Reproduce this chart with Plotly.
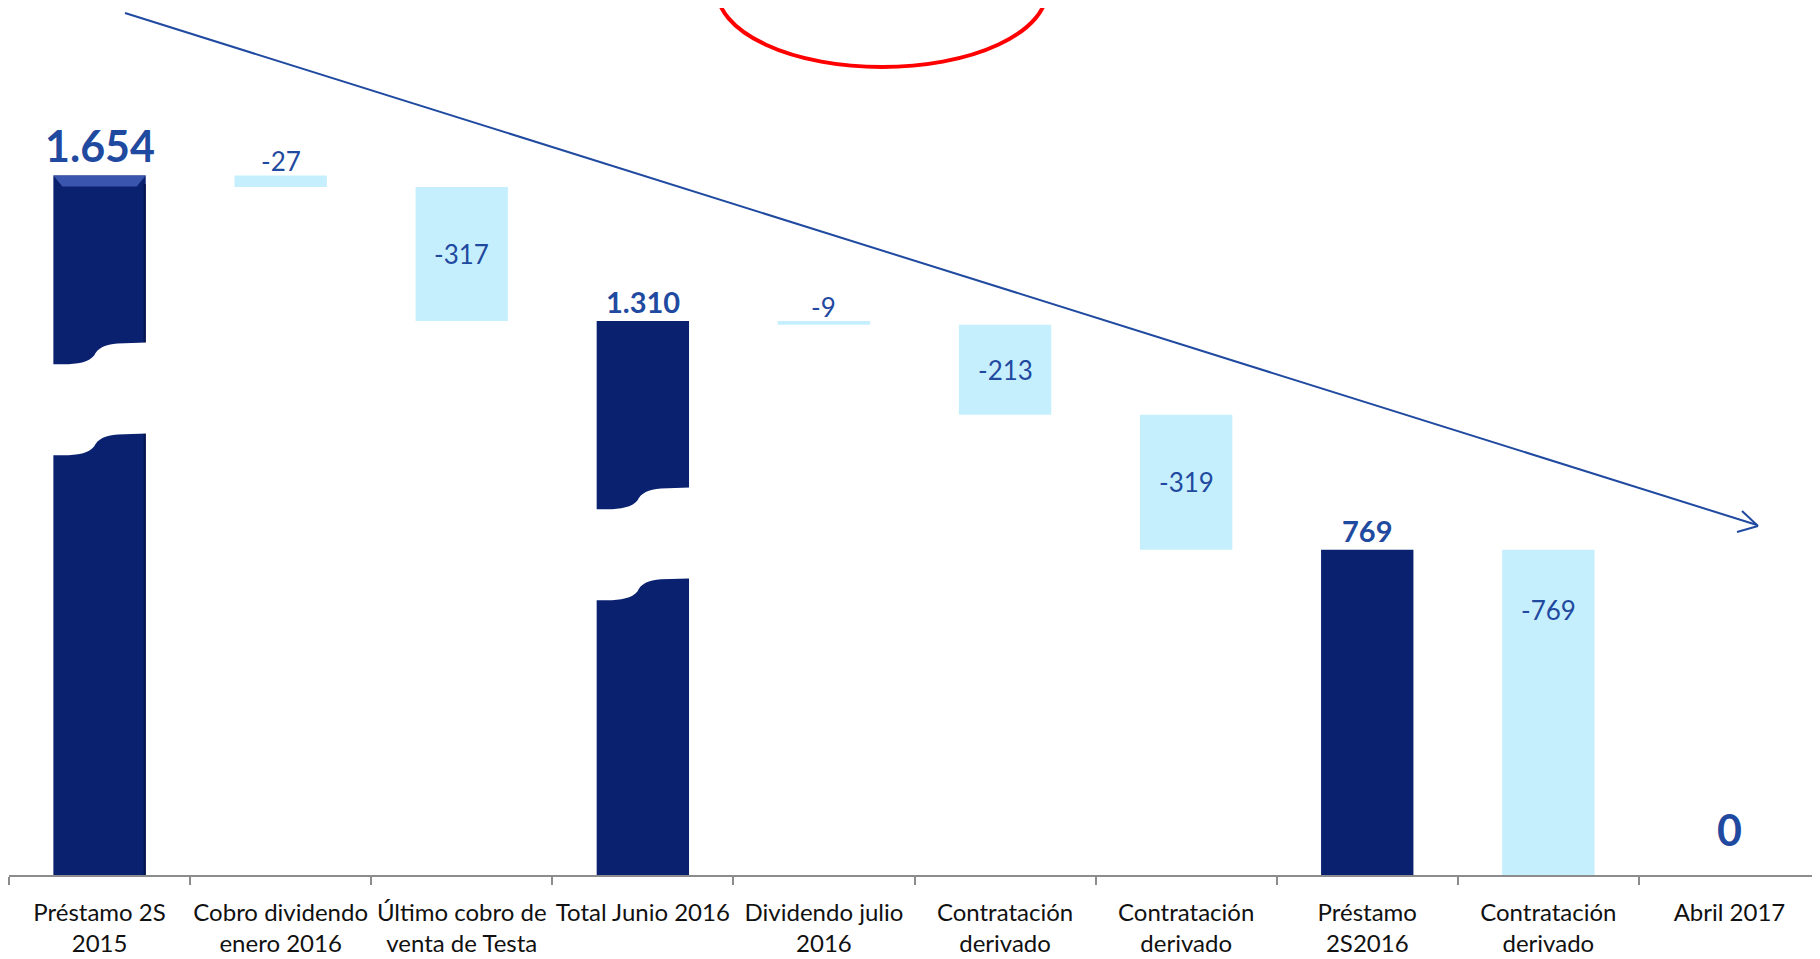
import plotly.graph_objects as go

# ---------------- data ----------------
categories = ["Préstamo 2S<br>2015", "Cobro dividendo<br>enero 2016", "Último cobro de<br>venta de Testa",
              "Total Junio 2016", "Dividendo julio<br>2016", "Contratación<br>derivado",
              "Contratación<br>derivado", "Préstamo<br>2S2016", "Contratación<br>derivado", "Abril 2017"]
measures = ["absolute", "relative", "relative", "total", "relative", "relative",
            "relative", "total", "relative", "total"]
values = [1654, -27, -317, 1310, -9, -213, -319, 769, -769, 0]

# ---------------- style ----------------
DARK = "#0a2170"
LIGHT = "#c6effd"
LABEL = "#1f4aa0"
FONT = "Lato"
YMAX = 2050
OFF = 8                      # page body margin of the html page
W, H = 1820 - OFF, 959 - OFF
ML, MR, MT, MB = 1, 0, 0, 84

x = list(range(len(categories)))

fig = go.Figure()
fig.add_trace(go.Waterfall(
    x=x, y=values, measure=measures, width=0.51,
    totals=dict(marker=dict(color=DARK, line=dict(width=0))),
    decreasing=dict(marker=dict(color=LIGHT, line=dict(width=0))),
    increasing=dict(marker=dict(color=LIGHT, line=dict(width=0))),
    connector=dict(visible=False), textinfo="none", hoverinfo="skip",
))

def fmt(v):
    return f"{v:,}".replace(",", ".")

# compute bar extents for labels
level = 0
anns = []
n = len(values)
for i, (m, v) in enumerate(zip(measures, values)):
    if m == "absolute":
        level = v
        start, end = 0, v
    elif m == "relative":
        start = level
        level += v
        end = level
    else:
        start, end = 0, level
    if m in ("absolute", "total"):
        big = (i == 0 or i == n - 1)
        anns.append(dict(x=i, y=end, text=f"<b>{fmt(end)}</b>", showarrow=False,
                         yanchor="bottom", yshift=(2 if big else 0) + (16 if end == 0 else 0),
                         font=dict(family=FONT, size=43 if big else 29, color=LABEL)))
    else:
        if abs(v) < 50:
            anns.append(dict(x=i, y=start, text=fmt(v), showarrow=False, yanchor="bottom", yshift=-4,
                             font=dict(family=FONT, size=26, color=LABEL)))
        elif abs(v) > 500:
            anns.append(dict(x=i, y=start, text=fmt(v), showarrow=False, yanchor="top", yshift=-42,
                             font=dict(family=FONT, size=26, color=LABEL)))
        else:
            anns.append(dict(x=i, y=(start + end) / 2, text=fmt(v), showarrow=False, yanchor="middle",
                             font=dict(family=FONT, size=26, color=LABEL)))

# ---------------- decorations (page pixel -> paper) ----------------
PW, PH = W - ML - MR, H - MT - MB
def px(xp):
    return (xp - OFF - ML) / PW
def py(yp):
    return (MT + PH - (yp - OFF)) / PH

shapes = []
# red ellipse (partially off the top)
shapes.append(dict(type="circle", xref="paper", yref="paper",
                   x0=px(717), x1=px(1047), y0=py(67), y1=py(-87),
                   line=dict(color="#ff0000", width=4), fillcolor="rgba(0,0,0,0)"))
# trend arrow
ARROW = "#1f4aa0"
shapes.append(dict(type="line", xref="paper", yref="paper", x0=px(125), y0=py(13), x1=px(1757), y1=py(525),
                   line=dict(color=ARROW, width=2)))
shapes.append(dict(type="line", xref="paper", yref="paper", x0=px(1742), y0=py(511), x1=px(1758), y1=py(526),
                   line=dict(color=ARROW, width=2)))
shapes.append(dict(type="line", xref="paper", yref="paper", x0=px(1737), y0=py(532), x1=px(1758), y1=py(526),
                   line=dict(color=ARROW, width=2)))

# bevel highlight on the first bar
bw = 0.255
v0 = values[0]
shapes.append(dict(type="path", xref="x", yref="y",
                   path=f"M {-bw},{v0} L {bw},{v0} L {bw-0.05},{v0-26} L {-bw+0.05},{v0-26} Z",
                   fillcolor="#3a55ad", line=dict(width=0)))
shapes.append(dict(type="rect", xref="x", yref="y", x0=bw - 0.012, x1=bw, y0=0, y1=v0 - 20,
                   fillcolor="#06154d", line=dict(width=0)))

# axis-break marks on the tall bars
def break_path(xc, y0, gap, amp, hw=0.30):
    L, R = xc - hw, xc + hw
    top = (f"M {L},{y0} L {xc-0.2},{y0} "
           f"C {xc-0.12},{y0} {xc-0.06},{y0+0.1*amp} {xc-0.03},{y0+0.4*amp} "
           f"C {xc-0.01},{y0+0.75*amp} {xc+0.03},{y0+0.9*amp} {xc+0.1},{y0+0.95*amp} "
           f"L {R},{y0+amp} ")
    b = y0 - gap
    bot = (f"L {R},{b+amp} L {xc+0.1},{b+0.95*amp} "
           f"C {xc+0.03},{b+0.9*amp} {xc-0.01},{b+0.75*amp} {xc-0.03},{b+0.4*amp} "
           f"C {xc-0.06},{b+0.1*amp} {xc-0.12},{b} {xc-0.2},{b} L {L},{b} Z")
    return top + bot

for i, (m, v) in enumerate(zip(measures, values)):
    if m in ("absolute", "total") and v > 1000:
        frac = 0.73 if i == 0 else 0.66
        shapes.append(dict(type="path", xref="x", yref="y",
                           path=break_path(i, v * frac, 215, 52),
                           fillcolor="white", line=dict(width=0)))

fig.update_layout(
    width=W, height=H, margin=dict(l=ML, r=MR, t=MT, b=MB),
    paper_bgcolor="white", plot_bgcolor="white", showlegend=False,
    shapes=shapes, annotations=anns,
    xaxis=dict(range=[-0.5, len(categories) - 0.5], tickvals=x, ticktext=categories,
               ticks="", showline=True, linecolor="#8c8c8c", linewidth=1.5, showgrid=False,
               zeroline=False, ticklabelstandoff=15,
               tickfont=dict(family=FONT, size=24, color="#111111"),
               minor=dict(tickvals=[k - 0.5 for k in range(len(categories) + 1)], ticks="outside",
                          ticklen=8, tickcolor="#8c8c8c", tickwidth=1.5, showgrid=False)),
    yaxis=dict(range=[0, YMAX], visible=False, showgrid=False, zeroline=False),
)

fig.write_html("out.html")
